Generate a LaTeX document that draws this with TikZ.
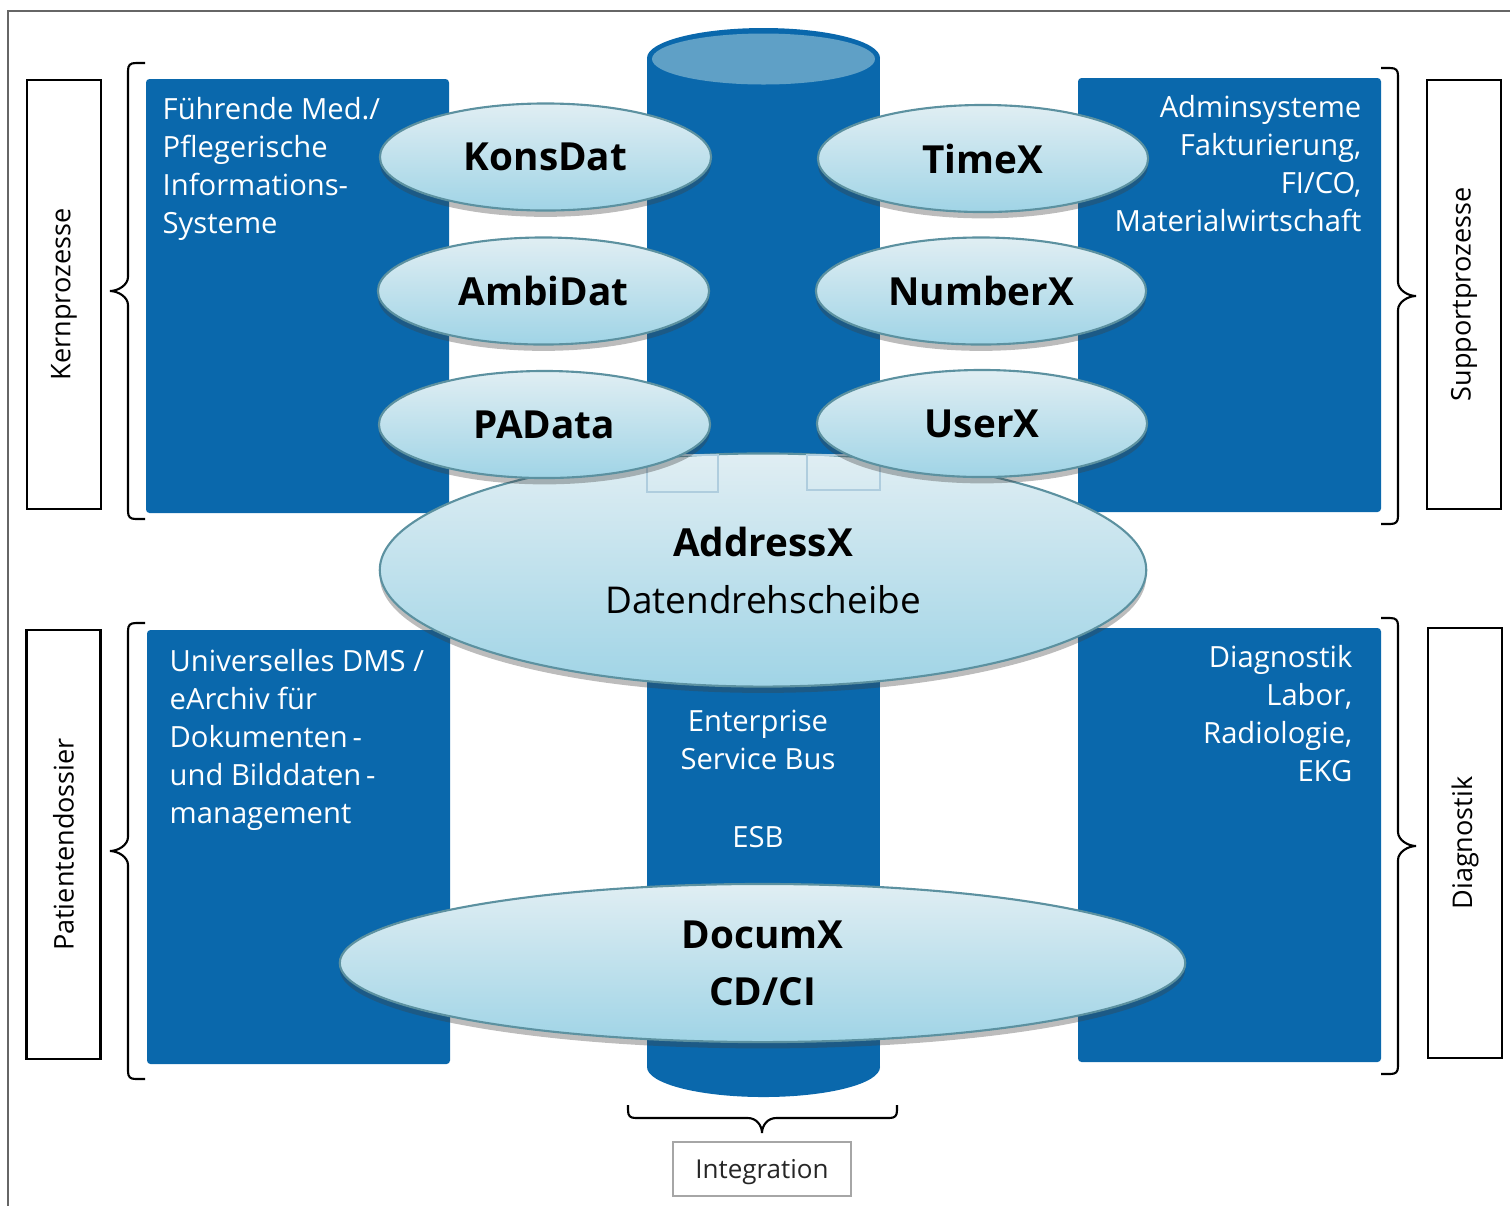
\documentclass[tikz,border=0pt]{standalone}
\usepackage{fontspec}
\setmainfont{Open Sans}
\usepackage{xcolor}
\usetikzlibrary{shapes.geometric,shadows}

\definecolor{esbblue}{RGB}{10,104,172}
\definecolor{esbtop}{RGB}{95,160,198}
\definecolor{bubbletop}{RGB}{224,238,243}
\definecolor{bubblebot}{RGB}{160,212,230}
\definecolor{bubbleline}{RGB}{92,145,160}
\definecolor{ghostline}{RGB}{175,205,222}

\tikzset{
  bubble/.style={ellipse, draw=bubbleline, line width=0.6pt,
    top color=bubbletop, bottom color=bubblebot, inner sep=0pt,
    drop shadow={shadow xshift=0pt, shadow yshift=-1.8pt, opacity=0.35, fill=black!75},
    font=\fontsize{11}{16.2}\selectfont\bfseries, text=black},
  sidebox/.style={draw, line width=0.6pt, rotate=90, minimum width=4.29cm,
    minimum height=0.74cm, font=\fontsize{7.7}{10}\selectfont},
  boxtext/.style={text=white, font=\fontsize{8.3}{10.8}\selectfont, inner sep=0pt},
  bracket/.style={line width=0.6pt}
}

\begin{document}
\begin{tikzpicture}[x=0.01cm, y=-0.01cm]
\useasboundingbox (0,0) rectangle (1510,1205);
\draw [gray!80!black, line width=0.5pt] (8,1215) -- (8,11) -- (1520,11);

\fill [esbblue, rounded corners=1pt] (146,79) rectangle (449,513);
\fill [esbblue, rounded corners=1pt] (1078,78) rectangle (1381,512);
\fill [esbblue, rounded corners=1pt] (147,630) rectangle (450,1064);
\fill [esbblue, rounded corners=1pt] (1078,628) rectangle (1381,1062);

% ESB cylinder
\fill [esbblue] (647,58) rectangle (880,1067);
\fill [esbblue] (763.5,1067) ellipse [x radius=116.5, y radius=30];
\fill [esbblue] (763.5,58) ellipse [x radius=116.5, y radius=30];
\fill [esbtop] (763.5,59) ellipse [x radius=111.5, y radius=25.5];

\node [boxtext, anchor=north west, align=left] (kisText) at (162,97)
  {Führende Med./\\Pflegerische\\Informations-\\Systeme};
\node [boxtext, anchor=north east, align=right] (adminText) at (1362,95)
  {Adminsysteme\\Fakturierung,\\FI/CO,\\Materialwirtschaft};
\node [boxtext, anchor=north west, align=left] (dmsText) at (169,649)
  {Universelles DMS /\\eArchiv für\\Dokumenten\,-\\und Bilddaten\,-\\management};
\node [boxtext, anchor=north east, align=right] (diagText) at (1353,645)
  {Diagnostik\\Labor,\\Radiologie,\\EKG};
\node [boxtext, align=center] (esbText) at (758,740) {Enterprise\\Service Bus};
\node [boxtext] (esbLabel) at (758,837) {ESB};

\node [bubble, minimum width=7.66cm, minimum height=2.33cm, align=center] (addressx) at (763,570)
  {AddressX\\{\fontsize{10.5}{16.2}\selectfont\mdseries Datendrehscheibe}};

\draw [ghostline, line width=0.4pt] (647,455) rectangle (718,492);
\draw [ghostline, line width=0.4pt] (807,455) rectangle (880,490);

\node [bubble, minimum width=3.31cm, minimum height=1.07cm] (konsdat) at (545.5,157) {KonsDat};
\node [bubble, minimum width=3.31cm, minimum height=1.07cm] (ambidat) at (543.5,291) {AmbiDat};
\node [bubble, minimum width=3.31cm, minimum height=1.07cm] (padata) at (544.5,424.5) {PAData};
\node [bubble, minimum width=3.30cm, minimum height=1.07cm] (timex) at (983,158.5) {TimeX};
\node [bubble, minimum width=3.30cm, minimum height=1.07cm] (numberx) at (981,291) {NumberX};
\node [bubble, minimum width=3.30cm, minimum height=1.07cm] (userx) at (982,423.5) {UserX};

\node [bubble, minimum width=8.45cm, minimum height=1.58cm, align=center] (documx) at (762.5,963)
  {DocumX\\CD/CI};

\node [sidebox] (kern) at (64,294.5) {Kernprozesse};
\node [sidebox] (support) at (1464,294.5) {Supportprozesse};
\node [sidebox] (patient) at (63.5,844.5) {Patientendossier};
\node [sidebox] (diag) at (1465,843) {Diagnostik};

\coordinate (kernTop) at (145,63);
\coordinate (patTop) at (145,623);
\coordinate (supTop) at (1381,68);
\coordinate (diagTop) at (1381,618);
\coordinate (integLeft) at (628,1105);

\foreach \c in {kernTop, patTop}
\draw [bracket] (\c) -- ++(-9,0) .. controls +(-6,0) and +(0,-6) .. ++(-8,8)
  -- ++(0,206) .. controls +(0,8) and +(8,0) .. ++(-18,14)
  .. controls +(8,0) and +(0,-8) .. ++(18,14)
  -- ++(0,206) .. controls +(0,6) and +(-6,0) .. ++(8,8) -- ++(9,0);
\foreach \c in {supTop, diagTop}
\draw [bracket] (\c) -- ++(9,0) .. controls +(6,0) and +(0,-6) .. ++(8,8)
  -- ++(0,206) .. controls +(0,8) and +(-8,0) .. ++(18,14)
  .. controls +(-8,0) and +(0,-8) .. ++(-18,14)
  -- ++(0,206) .. controls +(0,6) and +(6,0) .. ++(-8,8) -- ++(-9,0);
\draw [bracket] (integLeft) -- ++(0,5) .. controls +(0,6) and +(-6,0) .. ++(8,8)
  -- ++(112,0) .. controls +(8,0) and +(0,-8) .. ++(14,15)
  .. controls +(0,-8) and +(-8,0) .. ++(14,-15)
  -- ++(113,0) .. controls +(6,0) and +(0,6) .. ++(8,-8) -- ++(0,-5);

\node [draw=gray!70, line width=0.8pt, minimum width=1.78cm, minimum height=0.54cm,
  text depth=0pt, font=\fontsize{7.4}{9}\selectfont, text=black!85] (integ) at (762,1169) {Integration};

\end{tikzpicture}
\end{document}
